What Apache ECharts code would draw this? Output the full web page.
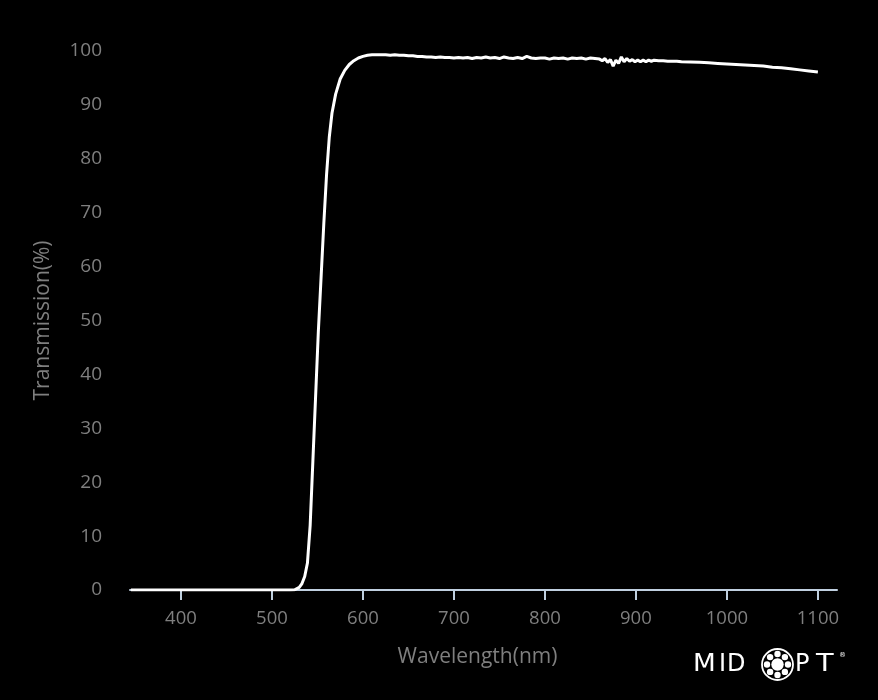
<!DOCTYPE html>
<html>
<head>
<meta charset="utf-8">
<script src="https://cdn.jsdelivr.net/npm/echarts@6/dist/echarts.min.js"></script>
<style>
html,body{margin:0;padding:0;background:#000;}
#chart{width:878px;height:700px;}
</style>
</head>
<body>
<div id="chart"></div>
<script>
// Wavelength (nm)
var wavelengths = [345,400,450,500,520,525,527,530,533,536,539,542,545,548,551,554,557,560,563,566,570,575,580,585,590,595,600,605,610,615,620,625,630,635,640,645,650,655,660,665,670,675,680,685,690,695,700,705,710,715,720,725,730,735,740,745,750,755,760,765,770,775,780,785,790,795,800,805,810,815,820,825,830,835,840,845,850,855,860,863,866,869,872,875,878,881,884,887,890,893,896,899,902,905,908,911,914,917,920,925,930,935,940,945,950,960,970,980,990,1000,1010,1020,1030,1040,1050,1060,1070,1080,1090,1100];
// Transmission (%)
var transmission = [0,0,0,0,0,0.05,0.1,0.5,1.2,2.5,5,12,24,36,48,58,68,77,84,88.5,92,94.8,96.4,97.5,98.2,98.7,99.0,99.2,99.3,99.3,99.3,99.3,99.2,99.3,99.2,99.2,99.1,99.1,99.0,99.0,98.9,98.9,98.8,98.9,98.8,98.8,98.7,98.8,98.7,98.8,98.6,98.8,98.7,98.9,98.7,98.8,98.6,98.9,98.7,98.6,98.8,98.6,99.0,98.7,98.6,98.7,98.7,98.5,98.7,98.6,98.7,98.5,98.7,98.6,98.7,98.5,98.7,98.6,98.5,98.2,98.6,97.9,98.4,97.2,98.3,97.7,98.9,98.0,98.6,98.1,98.4,98.0,98.3,98.0,98.3,98.0,98.3,98.1,98.3,98.2,98.2,98.1,98.1,98.1,98.0,97.95,97.9,97.8,97.7,97.6,97.5,97.4,97.3,97.2,97.0,96.9,96.7,96.5,96.3,96.1];
var xTicks = [400,500,600,700,800,900,1000,1100];
var yTitle = 'Transmission(%)';
var xTitle = 'Wavelength(nm)';

var seriesData = wavelengths.map(function(w,i){return [w, transmission[i]];});
var labelColor = '#7f7f7f';
var fontFam = '"Open Sans", "Noto Sans", sans-serif';
var logoFont = '24px "DejaVu Sans", sans-serif';

var chart = echarts.init(document.getElementById('chart'), null, {renderer:'canvas'});
chart.setOption({
  backgroundColor: '#000000',
  animation: false,
  grid: {left:130, right:41, top:51, bottom:110, containLabel:false},
  xAxis: {
    type:'value', min:344, max:1121,
    name: xTitle, nameLocation:'middle', nameGap:57,
    nameTextStyle:{color:labelColor, fontSize:21, fontFamily:fontFam, padding:[0,12,0,0]},
    axisLine:{show:true, lineStyle:{color:'#c0d0e0', width:2}},
    axisTick:{show:true, length:10, customValues:xTicks, lineStyle:{color:'#c0d0e0', width:2}},
    axisLabel:{customValues:xTicks, color:labelColor, fontSize:18.5, fontFamily:fontFam, margin:19,
      formatter:function(v){return String(v);}},
    splitLine:{show:false}
  },
  yAxis: {
    type:'value', min:0, max:100, interval:10,
    name: yTitle, nameLocation:'middle', nameGap:76, nameRotate:90,
    nameTextStyle:{color:labelColor, fontSize:21, fontFamily:fontFam},
    axisLine:{show:false}, axisTick:{show:false},
    axisLabel:{color:labelColor, fontSize:19, fontFamily:fontFam, margin:28},
    splitLine:{show:false}
  },
  series: [{
    type:'line', data: seriesData, showSymbol:false, smooth:false,
    lineStyle:{color:'#ffffff', width:3}, z:5
  }],
  graphic: [
    {type:'text', left:693, top:653, scaleX:1.1, style:{text:'M', fill:'#fff', font:logoFont}},
    {type:'text', left:719, top:653, style:{text:'I', fill:'#fff', font:logoFont}},
    {type:'text', left:727, top:653, style:{text:'D', fill:'#fff', font:logoFont}},
    {type:'circle', shape:{cx:777.5, cy:664.5, r:15.5}, style:{fill:'none', stroke:'#fff', lineWidth:1.8}},
    {type:'circle', shape:{cx:777.5, cy:664.5, r:6.2}, style:{fill:'#fff'}},
    {type:'circle', shape:{cx:777.5, cy:654, r:3.2}, style:{fill:'#fff'}},
    {type:'circle', shape:{cx:777.5, cy:675, r:3.2}, style:{fill:'#fff'}},
    {type:'circle', shape:{cx:767, cy:664.5, r:3.2}, style:{fill:'#fff'}},
    {type:'circle', shape:{cx:788, cy:664.5, r:3.2}, style:{fill:'#fff'}},
    {type:'circle', shape:{cx:770.1, cy:657.1, r:3.2}, style:{fill:'#fff'}},
    {type:'circle', shape:{cx:784.9, cy:657.1, r:3.2}, style:{fill:'#fff'}},
    {type:'circle', shape:{cx:770.1, cy:671.9, r:3.2}, style:{fill:'#fff'}},
    {type:'circle', shape:{cx:784.9, cy:671.9, r:3.2}, style:{fill:'#fff'}},
    {type:'text', left:795, top:653, style:{text:'P', fill:'#fff', font:logoFont}},
    {type:'text', left:816, top:653, scaleX:1.2, style:{text:'T', fill:'#fff', font:logoFont}},
    {type:'text', left:839, top:652, style:{text:'®', fill:'#fff', font:'7px "DejaVu Sans", sans-serif'}}
  ]
});
</script>
</body>
</html>
